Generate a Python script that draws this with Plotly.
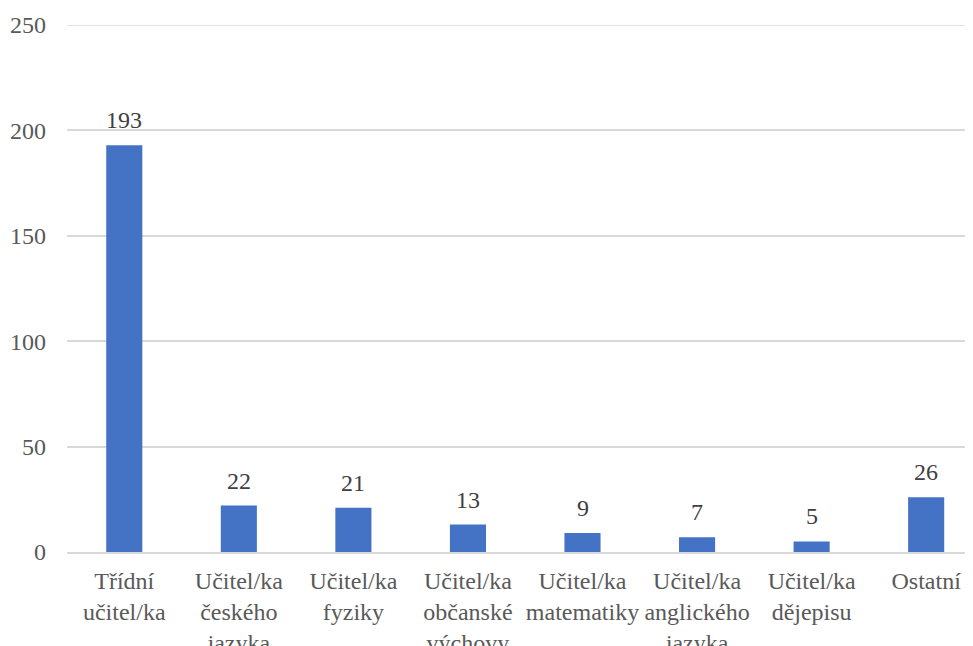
import plotly.graph_objects as go

categories = ["Třídní<br>učitel/ka", "Učitel/ka<br>českého<br>jazyka", "Učitel/ka<br>fyziky",
              "Učitel/ka<br>občanské<br>výchovy", "Učitel/ka<br>matematiky", "Učitel/ka<br>anglického<br>jazyka",
              "Učitel/ka<br>dějepisu", "Ostatní"]
values = [193, 22, 21, 13, 9, 7, 5, 26]
y_ticks = [0, 50, 100, 150, 200, 250]

FONT = "Liberation Serif, Times New Roman, serif"
GRID = "#d9d9d9"

fig = go.Figure(go.Bar(
    x=categories, y=values,
    marker=dict(color="#4472C4", line=dict(width=0)),
    hoverinfo="x+y",
))
for c, v in zip(categories, values):
    fig.add_annotation(x=c, y=v, text=str(v), showarrow=False, yanchor="bottom",
                       yshift=10, font=dict(family=FONT, size=24, color="#404040"))
fig.add_hline(y=y_ticks[-1], line=dict(color=GRID, width=1.5), layer="below")
fig.update_layout(
    width=965, height=638,
    margin=dict(l=59, r=1, t=17, b=94, autoexpand=False),
    paper_bgcolor="white", plot_bgcolor="white",
    bargap=0.685,
    showlegend=False,
    font=dict(family=FONT, size=24, color="#595959"),
)
fig.update_xaxes(showline=True, linecolor=GRID, linewidth=1.5, ticks="", automargin=False,
                 range=[-0.5, 7.4],
                 tickfont=dict(family=FONT, size=24, color="#595959"), ticklabelstandoff=6)
fig.update_yaxes(range=[0, 250], tickvals=y_ticks, showgrid=True, gridcolor=GRID, gridwidth=1.5,
                 zeroline=False, showline=False, ticks="", automargin=False,
                 tickfont=dict(family=FONT, size=24, color="#595959"), ticklabelstandoff=20)
fig.write_html("out.html")
